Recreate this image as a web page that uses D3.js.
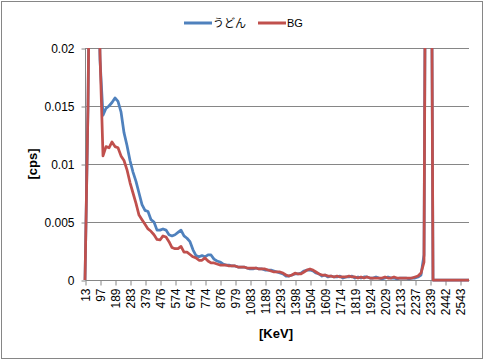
<!DOCTYPE html>
<html><head><meta charset="utf-8">
<script src="https://cdn.jsdelivr.net/npm/d3@7"></script>
<style>
html,body{margin:0;padding:0;background:#fff;}
svg{display:block;font-family:"Liberation Sans",Arial,sans-serif;}
</style></head>
<body><svg id="c" width="486" height="362"></svg>
<script>
// x tick labels (every 5th channel index)
const xLabels = ["13","97","189","283","379","476","574","674","774","876","979","1083","1189","1293","1398","1504","1609","1714","1819","1924","2029","2133","2237","2339","2442","2543"];
const yTicks = [0, 0.005, 0.01, 0.015, 0.02];
const yTickLabels = ["0","0.005","0.01","0.015","0.02"];
const seriesNames = ["うどん","BG"];
const seriesColors = ["#4F81BD","#C0504D"];

const udon = [
0,0.0150,0.04,0.0457,0.035,0.019,0.0142,0.0148,0.0150,0.0153,
0.0157,0.0154,0.0145,0.0127,0.0116,0.0103,0.0093,0.0085,0.0075,0.0065,
0.0060,0.0059,0.0052,0.0050,0.0043,0.0043,0.0044,0.0043,0.0039,0.0038,
0.0039,0.0041,0.0043,0.0038,0.0036,0.0033,0.0026,0.0021,0.0020,0.0021,
0.0020,0.00216,0.00216,0.0018,0.00164,0.00155,0.00138,0.00129,0.00129,0.00121,
0.00121,0.00112,0.00112,0.00112,0.00103,0.00095,0.00095,0.00103,0.00095,0.00095,
0.00086,0.00086,0.00086,0.00078,0.00069,0.0006,0.00052,0.00034,0.00034,0.00043,
0.00052,0.00052,0.0006,0.00078,0.00086,0.00086,0.00078,0.0006,0.00052,0.00034,
0.00043,0.00026,0.00034,0.00026,0.00026,0.00034,0.00017,0.00026,0.00026,0.00034,
0.00017,0.00026,0.00017,0.00026,0.00026,0.00017,0.00017,0.00026,0.00017,0.00009,
0.00017,0.00026,0.00017,0.00017,0.00009,0.00017,0.00017,0.00017,0.00009,0.00017,
0.00017,0.00026,0.00043,0.00216,0.06,0.06,0,0,0,0,
0,0,0,0,0,0,0,0,0
];
const bg = [
0,0.0150,0.04,0.0457,0.035,0.0195,0.0107,0.0115,0.0114,0.0119,
0.0115,0.0114,0.0107,0.0103,0.0095,0.0084,0.0075,0.0066,0.0056,0.0052,
0.0048,0.0044,0.0042,0.0039,0.0035,0.00345,0.0038,0.0037,0.0033,0.0028,
0.0027,0.0027,0.0029,0.0024,0.0024,0.0022,0.0020,0.0019,0.0017,0.0017,
0.0019,0.00164,0.00147,0.00147,0.00138,0.00129,0.00129,0.00129,0.00121,0.00121,
0.00121,0.00112,0.00112,0.00112,0.00103,0.00103,0.00103,0.00103,0.00095,0.00095,
0.00095,0.00086,0.00078,0.00069,0.00069,0.00069,0.0006,0.00043,0.00034,0.00043,
0.0006,0.00052,0.00052,0.00069,0.00086,0.00095,0.00086,0.00069,0.00052,0.00043,
0.00043,0.00034,0.00034,0.00026,0.00034,0.00026,0.00026,0.00026,0.00034,0.00026,
0.00026,0.00017,0.00026,0.00017,0.00026,0.00017,0.00017,0.00017,0.00017,0.00017,
0.00026,0.00017,0.00017,0.00026,0.00017,0.00017,0.00017,0.00017,0.00017,0.00017,
0.00026,0.00034,0.0006,0.00155,0.06,0.06,0,0,0,0,
0,0,0,0,0,0,0,0,0
];

const svg = d3.select("#c");
const L = 85, R = 469, T = 48, B = 280;
const n = udon.length;
const x = d3.scaleLinear().domain([0, n - 1]).range([L, R]);
const y = d3.scaleLinear().domain([0, 0.02]).range([B, T]);

// chart border
svg.append("rect").attr("x",1.5).attr("y",1.5).attr("width",481).attr("height",357)
  .attr("fill","#fff").attr("stroke","#868686").attr("stroke-width",1);

// gridlines
svg.append("g").selectAll("line").data(yTicks.slice(1)).join("line")
  .attr("x1",L).attr("x2",R).attr("y1",d=>Math.round(y(d))+0.5).attr("y2",d=>Math.round(y(d))+0.5)
  .attr("stroke","#868686").attr("stroke-width",1);

// y axis
const yAxis = d3.axisLeft(y).tickValues(yTicks).tickFormat((d,i)=>yTickLabels[i]).tickSize(4).tickPadding(7);
const gy = svg.append("g").attr("transform",`translate(${L+0.5},0.5)`).call(yAxis);
gy.select(".domain").attr("stroke","#868686").attr("d",`M0,${T}V${B}`);
gy.selectAll(".tick line").attr("stroke","#868686");
gy.selectAll(".tick text").attr("font-size","12px").attr("fill","#000").attr("font-family","Liberation Sans, Arial, sans-serif");

// x axis
const xTickIdx = xLabels.map((_, i) => i * 5);
const xAxis = d3.axisBottom(x).tickValues(xTickIdx).tickFormat((d,i)=>xLabels[i]).tickSize(5).tickPadding(0);
const gx = svg.append("g").attr("transform",`translate(0.5,${B+0.5})`).call(xAxis);
gx.select(".domain").attr("stroke","#868686").attr("d",`M${L},0H${R}`);
gx.selectAll(".tick line").attr("stroke","#868686");
gx.selectAll(".tick text").attr("font-size","12px").attr("fill","#000")
  .attr("font-family","Liberation Sans, Arial, sans-serif")
  .attr("transform","rotate(-90)").attr("text-anchor","end")
  .attr("dy","0.35em").attr("x",-8).attr("y",0);

// clip
svg.append("clipPath").attr("id","pc").append("rect").attr("x",L-3).attr("y",T).attr("width",R-L+6).attr("height",B-T+4);

const line = d3.line().x((d,i)=>x(i)).y(d=>y(d));
const plot = svg.append("g").attr("clip-path","url(#pc)");
[udon, bg].forEach((s, k) => {
  plot.append("path").datum(s).attr("d", line).attr("fill","none")
    .attr("stroke", seriesColors[k]).attr("stroke-width",2.75).attr("stroke-linejoin","round");
});

// axis titles
svg.append("text").attr("x",276).attr("y",338).attr("text-anchor","middle")
  .attr("font-size","13px").attr("font-weight","bold").text("[KeV]");
svg.append("text").attr("transform","translate(37,164) rotate(-90)").attr("text-anchor","middle")
  .attr("font-size","13px").attr("font-weight","bold").text("[cps]");

// legend
const lg = svg.append("g");
const legX = [184, 258];
seriesNames.forEach((nm, k) => {
  lg.append("line").attr("x1",legX[k]).attr("x2",legX[k]+28).attr("y1",23).attr("y2",23)
    .attr("stroke",seriesColors[k]).attr("stroke-width",3);
  lg.append("text").attr("x",legX[k]+29).attr("y",27).attr("font-size","11px")
    .attr("font-family", k===0 ? "Noto Sans CJK JP, sans-serif" : "Liberation Sans, Arial, sans-serif")
    .text(nm);
});
</script></body></html>
